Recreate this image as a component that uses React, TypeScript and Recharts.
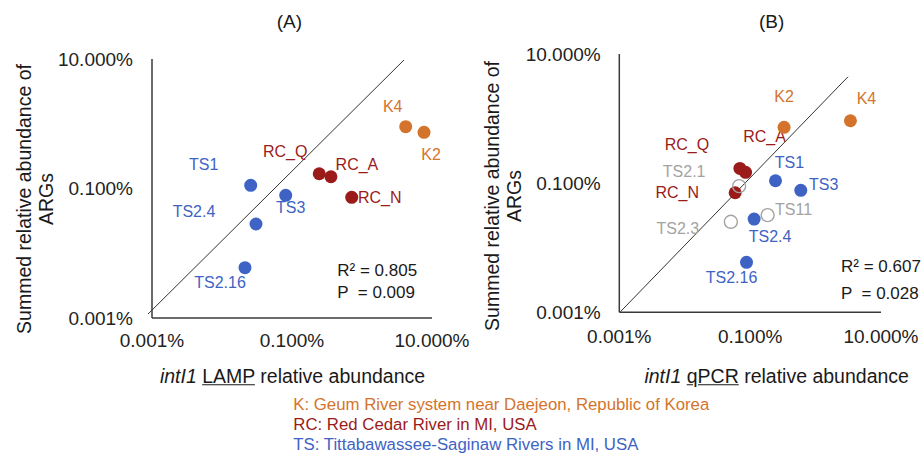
import { ScatterChart, Scatter, XAxis, YAxis, ReferenceLine } from 'recharts';

const ORANGE = '#d4742c';
const RED = '#9b1b1b';
const BLUE = '#3e63c4';
const GREY = '#a3a3a3';
const FONT = '"Liberation Sans", Arial, sans-serif';

// (A) LAMP, values in %
const lampSites = ['TS1', 'TS2.4', 'TS2.16', 'TS3', 'RC_Q', 'RC_A', 'RC_N', 'K4', 'K2'];
const lampIntI1 = [0.0257, 0.0306, 0.0213, 0.0813, 0.245, 0.36, 0.713, 4.21, 7.69];
const lampArgs = [0.112, 0.0283, 0.00598, 0.0785, 0.169, 0.152, 0.0731, 0.9, 0.738];
const lampFit = [
    { x: 0.000877, y: 0.00115 },
    { x: 3.98, y: 9.66 },
];

// (B) qPCR, values in %
const qpcrSites = ['K2', 'K4', 'RC_Q', 'RC_A', 'RC_N', 'TS1', 'TS3', 'TS2.4', 'TS2.16', 'TS2.1', 'TS11', 'TS2.3'];
const qpcrIntI1 = [0.33, 3.41, 0.0697, 0.0851, 0.059, 0.244, 0.594, 0.115, 0.088, 0.0679, 0.185, 0.0507];
const qpcrArgs = [0.731, 0.925, 0.169, 0.147, 0.071, 0.109, 0.0774, 0.0278, 0.00594, 0.09, 0.032, 0.0252];
const qpcrFit = [
    { x: 0.00104, y: 0.00102 },
    { x: 3.13, y: 4.44 },
];
const hollowSites = ['TS2.1', 'TS11', 'TS2.3'];

const axisTicks = [0.001, 0.1, 10];

// label offsets from the dot centre (px)
const lampLabelPos: Record<string, [number, number]> = {
    TS1: [-47, -21], 'TS2.4': [-62, -12], 'TS2.16': [-25, 15], TS3: [5, 12],
    RC_Q: [-34, -22], RC_A: [26, -12], RC_N: [28, 0], K4: [-13, -20], K2: [7, 22],
};
const qpcrLabelPos: Record<string, [number, number]> = {
    K2: [0, -31], K4: [16, -22], RC_Q: [-53, -24], RC_A: [19, -36], 'TS2.1': [-55, -15],
    RC_N: [-58, 0], TS1: [14, -18], TS3: [23, -6], TS11: [26, -6], 'TS2.3': [-53, 7],
    'TS2.4': [16, 17], 'TS2.16': [-15, 15],
};

const siteColor = (name: string) => {
    if (hollowSites.includes(name)) return GREY;
    if (name.startsWith('K')) return ORANGE;
    if (name.startsWith('RC')) return RED;
    return BLUE;
};

const toRows = (sites: string[], xs: number[], ys: number[]) =>
    sites.map((name, i) => ({ name, x: xs[i], y: ys[i] }));

const Dot = (props: any) => {
    const { cx, cy, payload } = props;
    const hollow = hollowSites.includes(payload.name);
    return (
        <circle
            cx={cx}
            cy={cy}
            r={6.5}
            fill={hollow ? 'none' : siteColor(payload.name)}
            stroke={hollow ? GREY : 'none'}
            strokeWidth={1.4}
        />
    );
};

const makeLabel = (pos: Record<string, [number, number]>) => (props: any) => {
    const { cx, cy, payload } = props;
    const [dx, dy] = pos[payload.name] || [0, 0];
    return (
        <text x={cx + dx} y={cy + dy} textAnchor="middle" dominantBaseline="central" fontSize={16} fill={siteColor(payload.name)}>
            {payload.name}
        </text>
    );
};

const fmt = (v: number) => v.toFixed(3) + '%';

function Panel({ rows, fit, labelPos, margin, xMargin, yMargin }: any) {
    return (
        <ScatterChart width={margin.w} height={400} margin={margin.m}>
            <XAxis
                type="number"
                dataKey="x"
                scale="log"
                domain={[0.001, 10]}
                ticks={axisTicks}
                interval={0}
                tickFormatter={fmt}
                tickLine={false}
                tickMargin={xMargin}
                height={30}
                axisLine={{ stroke: '#3a3a3a', strokeWidth: 1.5 }}
                tick={{ fill: '#222', fontSize: 19 }}
            />
            <YAxis
                type="number"
                dataKey="y"
                scale="log"
                domain={[0.001, 10]}
                ticks={axisTicks}
                interval={0}
                tickFormatter={fmt}
                tickLine={false}
                tickMargin={yMargin}
                width={100}
                axisLine={{ stroke: '#3a3a3a', strokeWidth: 1.5 }}
                tick={{ fill: '#222', fontSize: 19 }}
            />
            <ReferenceLine segment={fit} stroke="#333" strokeWidth={1} ifOverflow="visible" />
            <Scatter data={rows} shape={makeLabel(labelPos)} isAnimationActive={false} />
            <Scatter data={rows} shape={Dot} isAnimationActive={false} />
        </ScatterChart>
    );
}

const centered = (x: number, y: number, extra: any = {}) => ({
    position: 'absolute' as const,
    left: x,
    top: y,
    transform: 'translate(-50%, -50%)',
    whiteSpace: 'nowrap' as const,
    lineHeight: 1,
    ...extra,
});

export default function App() {
    const lampRows = toRows(lampSites, lampIntI1, lampArgs);
    const qpcrRows = toRows(qpcrSites, qpcrIntI1, qpcrArgs);
    const yTitle = (x: number, y: number) => (
        <div style={centered(x, y, { transform: 'translate(-50%, -50%) rotate(-90deg)', textAlign: 'center', lineHeight: '21.5px', fontSize: 19.5 })}>
            Summed relative abundance of
            <br />
            ARGs
        </div>
    );
    return (
        <div style={{ position: 'relative', width: 922, height: 455, background: '#fff', fontFamily: FONT, color: '#1a1a1a' }}>
            <style>{'body{margin:0} .recharts-surface{overflow:visible} .recharts-wrapper{overflow:visible}'}</style>
            <div style={{ position: 'absolute', left: 0, top: 0 }}>
                <Panel
                    rows={lampRows}
                    fit={lampFit}
                    labelPos={lampLabelPos}
                    margin={{ w: 460, m: { top: 59, right: 28, bottom: 52, left: 52 } }}
                    xMargin={10}
                    yMargin={13}
                />
            </div>
            <div style={{ position: 'absolute', left: 460, top: 0 }}>
                <Panel
                    rows={qpcrRows}
                    fit={qpcrFit}
                    labelPos={qpcrLabelPos}
                    margin={{ w: 462, m: { top: 54, right: 41, bottom: 57.7, left: 59.3 } }}
                    xMargin={11}
                    yMargin={12.6}
                />
            </div>

            <div style={centered(289.3, 20.7, { fontSize: 19 })}>(A)</div>
            <div style={centered(771.7, 20.7, { fontSize: 19 })}>(B)</div>

            {yTitle(34.5, 199)}
            {yTitle(502.5, 196)}

            <div style={centered(292.5, 376.7, { fontSize: 19.5 })}>
                <i>intI1</i> <u>LAMP</u> relative abundance
            </div>
            <div style={centered(776.7, 376.7, { fontSize: 19.5 })}>
                <i>intI1</i> <u>qPCR</u> relative abundance
            </div>

            <div style={{ position: 'absolute', left: 293.3, top: 394.5, fontSize: 16.8, lineHeight: '20.4px', whiteSpace: 'nowrap' }}>
                <div style={{ color: ORANGE }}>K: Geum River system near Daejeon, Republic of Korea</div>
                <div style={{ color: RED }}>RC: Red Cedar River in MI, USA</div>
                <div style={{ color: BLUE }}>TS: Tittabawassee-Saginaw Rivers in MI, USA</div>
            </div>

            <div style={{ position: 'absolute', left: 337.3, top: 260, fontSize: 17, lineHeight: '22px', whiteSpace: 'pre' }}>
                {'R² = 0.805\nP  = 0.009'}
            </div>
            <div style={{ position: 'absolute', left: 841, top: 254, fontSize: 17, lineHeight: '26.7px', whiteSpace: 'pre' }}>
                {'R² = 0.607\nP  = 0.028'}
            </div>
        </div>
    );
}
